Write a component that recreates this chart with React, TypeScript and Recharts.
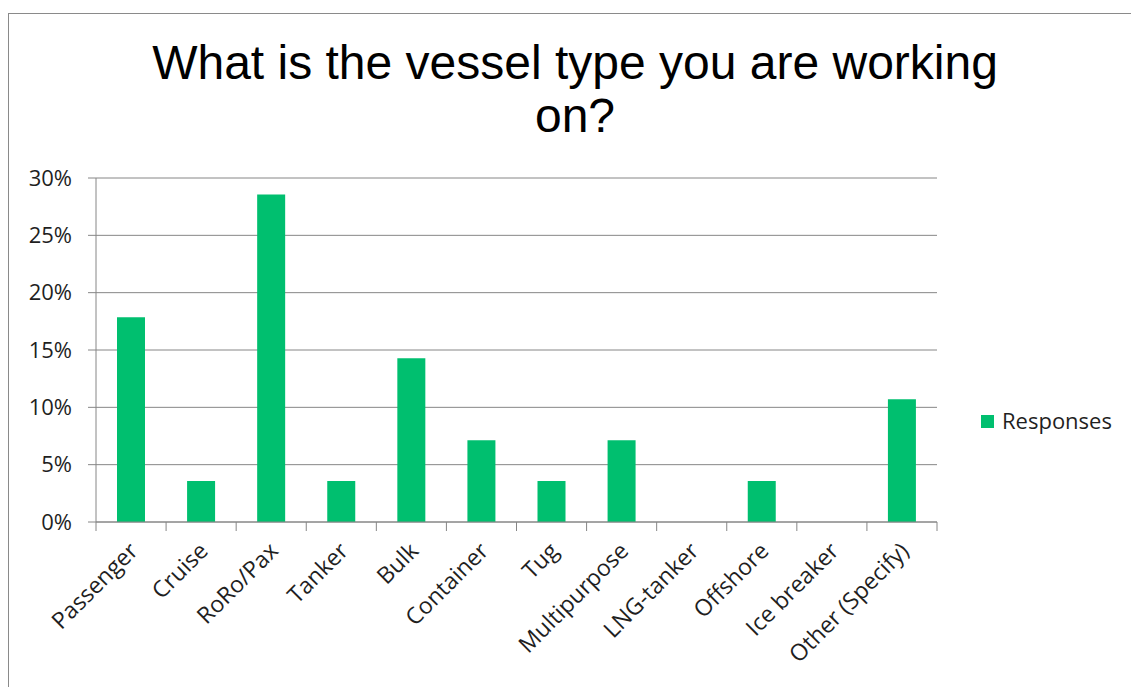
import { Bar, BarChart, CartesianGrid, Legend, XAxis, YAxis } from 'recharts';

const categories = [
  'Passenger',
  'Cruise',
  'RoRo/Pax',
  'Tanker',
  'Bulk',
  'Container',
  'Tug',
  'Multipurpose',
  'LNG-tanker',
  'Offshore',
  'Ice breaker',
  'Other (Specify)',
];
const responses = [17.86, 3.57, 28.57, 3.57, 14.29, 7.14, 3.57, 7.14, 0, 3.57, 0, 10.71];
const yTicks = [0, 5, 10, 15, 20, 25, 30];
const titleLines = ['What is the vessel type you are working', 'on?'];
const seriesName = 'Responses';

const data = categories.map((name, i) => ({ name, value: responses[i] }));

const W = 1131;
const H = 687;
const PLOT_W = 841;
const GREEN = '#00bf6f';
const AXIS = '#868686';
const TEXT = '#1f1f1f';
const FONT = '"Open Sans", sans-serif';

function XTick(props: any) {
  const { x, y, payload, index } = props;
  const band = PLOT_W / categories.length;
  return (
    <g>
      <line x1={x - band / 2} y1={y} x2={x - band / 2} y2={y + 9} stroke={AXIS} />
      {index === categories.length - 1 && <line x1={x + band / 2} y1={y} x2={x + band / 2} y2={y + 9} stroke={AXIS} />}
      <text
        x={x + 4}
        y={y + 26}
        transform={`rotate(-45 ${x + 4} ${y + 26})`}
        textAnchor="end"
        dominantBaseline="middle"
        fontFamily={FONT}
        fontSize={23}
        fill={TEXT}
      >
        {payload.value}
      </text>
    </g>
  );
}

function LegendBox({ payload }: any) {
  return (
    <div style={{ position: 'relative', width: 150, height: 20 }}>
      {(payload || []).map((p: any) => (
        <div key={p.value}>
          <div style={{ position: 'absolute', left: 0, top: 0, width: 13, height: 13, background: GREEN }} />
          <span
            style={{ position: 'absolute', left: 21, top: -6.5, fontFamily: FONT, fontSize: 22, lineHeight: '22px', color: TEXT, whiteSpace: 'nowrap' }}
          >
            {p.value}
          </span>
        </div>
      ))}
    </div>
  );
}

export default function App() {
  return (
    <div style={{ position: 'fixed', left: 0, top: 0, width: W, height: H, background: '#fff', overflow: 'hidden' }}>
      <div
        style={{ position: 'absolute', left: 8, top: 13, width: 1200, height: 800, borderTop: '1px solid #8a8a8a', borderLeft: '1px solid #8a8a8a' }}
      />
      <svg width={W} height={H} style={{ position: 'absolute', left: 0, top: 0 }}>
        {titleLines.map((line, i) => (
          <text key={i} x={575} y={79 + i * 53} textAnchor="middle" fontFamily='"Liberation Sans", Arial, sans-serif' fontSize={48} fill="#000">
            {line}
          </text>
        ))}
      </svg>
      <div style={{ position: 'absolute', left: 0, top: 0 }}>
        <BarChart width={W} height={H} data={data} margin={{ top: 178, right: 194, bottom: 15, left: 10 }} barCategoryGap="30%">
          <CartesianGrid horizontal vertical={false} stroke={AXIS} />
          <XAxis
            dataKey="name"
            interval={0}
            height={130}
            tickSize={0}
            tickMargin={0}
            tickLine={false}
            axisLine={{ stroke: AXIS }}
            tick={<XTick />}
          />
          <YAxis
            width={86}
            domain={[0, 30]}
            ticks={yTicks}
            interval={0}
            tickFormatter={(v: number) => `${v}%`}
            tickSize={8}
            tickMargin={16}
            tickLine={{ stroke: AXIS }}
            axisLine={{ stroke: AXIS }}
            tick={{ fontFamily: FONT, fontSize: 22, fill: TEXT }}
          />
          <Legend
            layout="vertical"
            content={<LegendBox />}
            wrapperStyle={{ position: 'absolute', left: 981, top: 415, width: 150, height: 20 }}
          />
          <Bar dataKey="value" name={seriesName} fill={GREEN} barSize={28} isAnimationActive={false} />
        </BarChart>
      </div>
    </div>
  );
}
